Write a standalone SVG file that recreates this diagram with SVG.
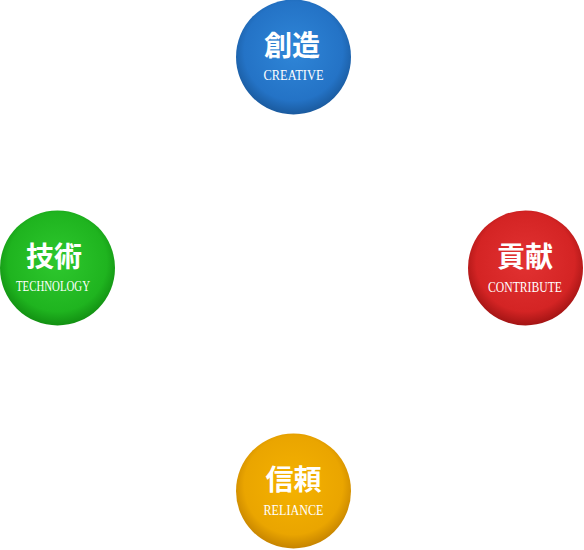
<svg xmlns="http://www.w3.org/2000/svg" width="584" height="550" viewBox="0 0 584 550">
<style>
.k{font-family:"Noto Sans CJK JP","Noto Sans CJK SC",sans-serif;font-weight:bold;font-size:28px;fill:#fff;text-anchor:middle}
.e{font-family:"Liberation Serif",serif;font-size:14px;fill:#fff;text-anchor:middle}
</style>
<defs>
<radialGradient id="gb" cx="50%" cy="45%" r="55%"><stop offset="0" stop-color="#2f86d8"/><stop offset="0.78" stop-color="#2473c6"/><stop offset="1" stop-color="#1a5a9e"/></radialGradient>
<radialGradient id="gg" cx="50%" cy="45%" r="55%"><stop offset="0" stop-color="#2ec82e"/><stop offset="0.78" stop-color="#1fb41f"/><stop offset="1" stop-color="#129012"/></radialGradient>
<radialGradient id="gr" cx="50%" cy="45%" r="55%"><stop offset="0" stop-color="#e23232"/><stop offset="0.78" stop-color="#d42424"/><stop offset="1" stop-color="#a31414"/></radialGradient>
<radialGradient id="gy" cx="50%" cy="45%" r="55%"><stop offset="0" stop-color="#f5b200"/><stop offset="0.78" stop-color="#eaa500"/><stop offset="1" stop-color="#c68400"/></radialGradient>
</defs>
<g id="connectors"/>
<g id="creative">
<circle cx="293.5" cy="57" r="57.5" fill="url(#gb)"/>
<text class="k" x="292" y="56">創造</text>
<text class="e" x="293.5" y="80" textLength="60" lengthAdjust="spacingAndGlyphs">CREATIVE</text>
</g>
<g id="technology">
<circle cx="57.5" cy="268" r="57.5" fill="url(#gg)"/>
<text class="k" x="54" y="267">技術</text>
<text class="e" x="53" y="291" textLength="74" lengthAdjust="spacingAndGlyphs">TECHNOLOGY</text>
</g>
<g id="contribute">
<circle cx="525.5" cy="268" r="57.5" fill="url(#gr)"/>
<text class="k" x="525" y="267">貢献</text>
<text class="e" x="525" y="292" textLength="74" lengthAdjust="spacingAndGlyphs">CONTRIBUTE</text>
</g>
<g id="reliance">
<circle cx="293.5" cy="491" r="57.5" fill="url(#gy)"/>
<text class="k" x="293.5" y="490">信頼</text>
<text class="e" x="293.5" y="515" textLength="60" lengthAdjust="spacingAndGlyphs">RELIANCE</text>
</g>
</svg>
